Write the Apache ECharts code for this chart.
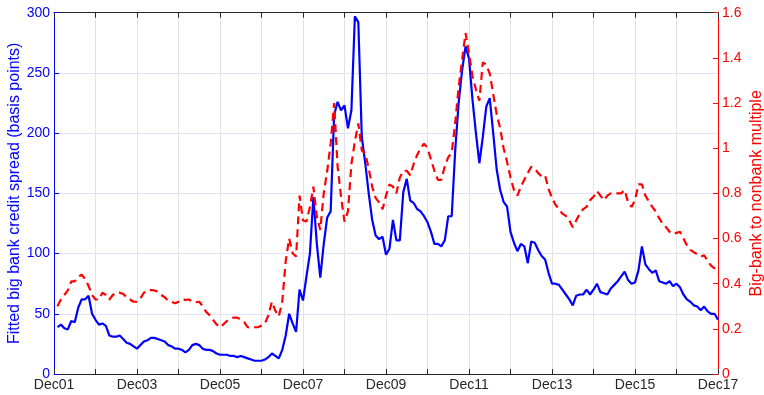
<!DOCTYPE html>
<html>
<head>
<meta charset="utf-8">
<script src="https://cdn.jsdelivr.net/npm/echarts@6/dist/echarts.min.js"></script>
<style>html,body{margin:0;padding:0;background:#fff}#c{width:764px;height:395px}</style>
</head>
<body>
<div id="c"></div>
<script>
// Months since Dec 2001 for the first observation (Jan 2002)
const startMonth = 1;
// Fitted big bank credit spread (basis points), monthly Jan02..Dec17
const spread = [
 39,41,38,37,44,43,55,62,62,65,50,
 45,41,42,40,32,31,31,32,29,26,25,23,
 21,24,27,28,30,30,29,28,27,24,23,21,
 21,20,18,20,24,25,24,21,20,20,19,17,
 16,16,16,15,15,14,15,14,13,12,11,11,
 11,12,14,17,15,13,20,32,50,42,35,70,
 61,81,100,147,108,80,108,130,135,215,226,219,
 223,204,219,297,292,197,175,150,128,115,112,114,
 99,104,128,111,111,151,162,144,142,137,135,131,
 126,118,108,108,106,111,131,131,185,225,252,272,
 262,228,200,175,197,222,229,200,170,153,143,139,
 118,109,102,108,106,92,110,109,103,98,95,84,
 75,75,74,70,66,62,57,65,66,66,70,66,
 70,75,68,67,66,71,74,77,81,85,78,75,
 76,86,106,91,87,84,86,77,76,75,77,73,
 75,72,66,62,60,57,56,53,56,52,50,50,45
];
// Big-bank to nonbank multiple, monthly Jan02..Dec17
const multiple = [
 0.30,0.33,0.35,0.37,0.41,0.41,0.43,0.44,0.42,0.39,0.35,
 0.33,0.33,0.36,0.35,0.33,0.35,0.36,0.36,0.355,0.34,0.33,0.32,
 0.32,0.335,0.36,0.37,0.372,0.37,0.365,0.35,0.34,0.325,0.32,0.313,
 0.32,0.33,0.328,0.33,0.32,0.318,0.32,0.30,0.275,0.26,0.24,0.22,
 0.207,0.22,0.235,0.245,0.25,0.25,0.24,0.23,0.207,0.205,0.207,0.207,
 0.215,0.224,0.26,0.32,0.28,0.255,0.32,0.50,0.60,0.535,0.52,0.79,
 0.68,0.675,0.74,0.83,0.697,0.638,0.80,0.90,1.02,1.20,0.92,0.785,
 0.675,0.72,0.93,1.03,1.11,0.99,0.977,0.91,0.83,0.78,0.76,0.73,
 0.79,0.84,0.83,0.80,0.87,0.90,0.90,0.88,0.93,0.97,1.00,1.02,
 1.00,0.95,0.90,0.86,0.86,0.92,0.96,0.98,1.11,1.27,1.39,1.51,
 1.42,1.32,1.26,1.21,1.38,1.37,1.33,1.24,1.15,1.09,1.00,0.94,
 0.87,0.815,0.79,0.83,0.86,0.89,0.918,0.91,0.89,0.875,0.88,0.82,
 0.78,0.75,0.73,0.71,0.70,0.68,0.65,0.68,0.71,0.73,0.74,0.77,
 0.785,0.81,0.79,0.77,0.79,0.80,0.80,0.80,0.80,0.815,0.76,0.74,
 0.77,0.84,0.84,0.79,0.765,0.74,0.72,0.69,0.665,0.65,0.63,0.62,
 0.625,0.63,0.60,0.57,0.55,0.54,0.53,0.52,0.526,0.50,0.48,0.468,0.446
];
const xTickLabels = ['Dec01','Dec03','Dec05','Dec07','Dec09','Dec11','Dec13','Dec15','Dec17'];
const leftTicks = [0,50,100,150,200,250,300];
const rightTicks = [0,0.2,0.4,0.6,0.8,1,1.2,1.4,1.6];

const font = 'Liberation Sans, Arial, Helvetica, sans-serif';
const spreadData = spread.map((v,i)=>[startMonth+i, v]);
const multData = multiple.map((v,i)=>[startMonth+i, v]);

const chart = echarts.init(document.getElementById('c'), null, {renderer:'canvas'});
const xCommon = {
  type:'value', min:0, max:192, interval:12,
  axisLine:{show:true, onZero:false, lineStyle:{color:'#262626', width:1}},
  axisTick:{show:true, inside:true, length:5, lineStyle:{color:'#262626'}},
};
chart.setOption({
  animation:false,
  backgroundColor:'#fff',
  grid:{left:54, right:46, top:12.7, bottom:21, containLabel:false, outerBoundsMode:'none'},
  xAxis:[
    Object.assign({}, xCommon, {
      position:'bottom',
      axisLabel:{show:true, margin:4, color:'#262626', fontFamily:font, fontSize:14,
        formatter:(v)=> (v%24===0 ? xTickLabels[v/24] : '')},
      splitLine:{show:true, lineStyle:{color:'#e3e3e3', width:1}}
    }),
    Object.assign({}, xCommon, {
      position:'top',
      axisLabel:{show:false},
      splitLine:{show:false}
    })
  ],
  yAxis:[
    {
      type:'value', min:leftTicks[0], max:leftTicks[leftTicks.length-1], interval:50, position:'left',
      name:'Fitted big bank credit spread (basis points)', nameLocation:'middle', nameGap:31, nameRotate:90,
      nameMoveOverlap:false,
      nameTextStyle:{color:'#0000ff', fontFamily:font, fontSize:16},
      axisLine:{show:true, onZero:false, lineStyle:{color:'#0000ff', width:1}},
      axisTick:{show:true, inside:true, length:5, lineStyle:{color:'#0000ff'}},
      axisLabel:{color:'#0000ff', fontFamily:font, fontSize:14, margin:4},
      splitLine:{show:true, lineStyle:{color:'#e0e0ff', width:1}}
    },
    {
      type:'value', min:rightTicks[0], max:rightTicks[rightTicks.length-1], interval:0.2, position:'right',
      name:'Big-bank to nonbank multiple', nameLocation:'middle', nameGap:31, nameRotate:90,
      nameMoveOverlap:false,
      nameTextStyle:{color:'#ff0000', fontFamily:font, fontSize:16},
      axisLine:{show:true, onZero:false, lineStyle:{color:'#ff0000', width:1}},
      axisTick:{show:true, inside:true, length:5, lineStyle:{color:'#ff0000'}},
      axisLabel:{color:'#ff0000', fontFamily:font, fontSize:14, margin:4,
        formatter:(v)=> String(Math.round(v*10)/10)},
      splitLine:{show:false}
    }
  ],
  series:[
    {
      type:'line', name:'spread', xAxisIndex:0, yAxisIndex:0, data:spreadData,
      showSymbol:false, symbol:'none', smooth:false,
      lineStyle:{color:'#0000ff', width:2.2}, z:3
    },
    {
      type:'line', name:'multiple', xAxisIndex:0, yAxisIndex:1, data:multData,
      showSymbol:false, symbol:'none', smooth:false,
      lineStyle:{color:'#ff0000', width:2.2, type:[8,5]}, z:4
    }
  ]
});
</script>
</body>
</html>
